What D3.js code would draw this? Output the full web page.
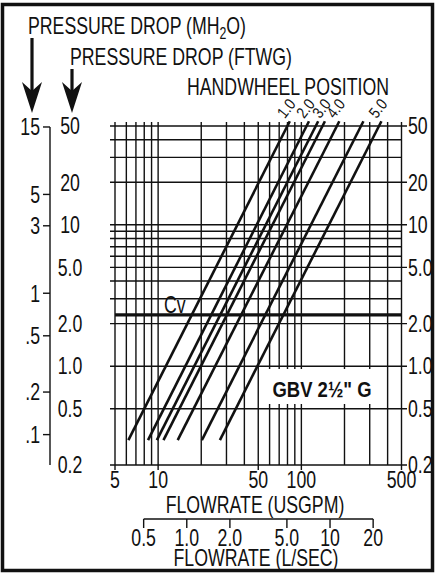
<!DOCTYPE html>
<html><head><meta charset="utf-8">
<script src="https://cdn.jsdelivr.net/npm/d3@7"></script>
<style>body{margin:0;background:#fff}svg{display:block}</style>
</head><body><svg id="c" width="435" height="573"></svg>
<script>
// ---- data ----
const flowTicks = [5, 10, 50, 100, 500];
const flowTickLabels = ["5", "10", "50", "100", "500"];
const flowGrid = [5,6,7,8,9,10,20,30,40,50,60,70,80,90,100,200,300,400,500];
const litreTicks = [0.5, 1.0, 2.0, 5.0, 10, 20];
const litreTickLabels = ["0.5", "1.0", "2.0", "5.0", "10", "20"];
const ftTicks = [50, 20, 10, 5, 2, 1, 0.5, 0.2];
const ftTickLabels = ["50", "20", "10", "5.0", "2.0", "1.0", "0.5", "0.2"];
const ftGrid = [50,40,30,20,10,9,8,7,6,5,4,3,2,1,0.5];
const mTicks = [15, 5, 3, 1, 0.5, 0.2, 0.1];
const mTickLabels = ["15", "5", "3", "1", ".5", ".2", ".1"];
const positions = ["1.0", "2.0", "", "3.0", "4.0", "", "5.0"];
const dropLow = 0.3, dropHigh = 54;            // ft wg at the ends of each curve
const flowAtLow = [6.2, 8.5, 9.8, 10.9, 13.7, 20.2, 27.0];   // USGPM at dropLow
const flowAtHigh = [83, 113, 131, 146, 184, 271, 362];       // USGPM at dropHigh
const cvDrop = 2.31;                           // 1 psi in ft wg
const GPM_PER_LS = 15.85, FT_PER_M = 3.2808;

// ---- scales ----
const svg = d3.select("#c");
const x = d3.scaleLog().domain([5, 500]).range([115, 401.5]);
const y = d3.scaleLog().domain([0.2, 50]).range([465, 126]);
const FONT = '"Liberation Sans", Arial, sans-serif';
const INK = "#111";

function txt(px, py, s, o = {}) {
  const size = o.size || 23, sx = o.sx || 0.77, rot = o.rot || 0;
  return svg.append("text")
    .attr("transform", `translate(${px},${py}) rotate(${rot}) scale(${sx},1)`)
    .attr("text-anchor", o.anchor || "start")
    .attr("dy", o.dy || 0)
    .style("font-family", FONT).style("font-size", size + "px")
    .style("font-weight", o.weight || "normal").attr("fill", INK)
    .text(s);
}

// border
svg.append("rect").attr("x", 2.5).attr("y", 4.5).attr("width", 430).attr("height", 566)
  .attr("fill", "none").attr("stroke", INK).attr("stroke-width", 3.5);

// ---- grid ----
const g = svg.append("g").attr("stroke", INK).attr("stroke-width", 1.4);
g.selectAll("line.v").data(flowGrid).join("line")
  .attr("x1", d => x(d)).attr("x2", d => x(d))
  .attr("y1", 122).attr("y2", d => flowTicks.includes(d) ? 470 : 465);
g.selectAll("line.h").data(ftGrid).join("line")
  .attr("x1", 110).attr("x2", d => ftTicks.includes(d) ? 407 : x(500))
  .attr("y1", d => y(d)).attr("y2", d => y(d));
g.append("line").attr("x1", 110).attr("x2", 407).attr("y1", y(0.2)).attr("y2", y(0.2));

// label box
svg.append("rect").attr("x", 267).attr("y", 369).attr("width", 108).attr("height", 35).attr("fill", "#fff");
txt(322, 397, 'GBV 2\u00BD" G', {anchor: "middle", weight: "bold", size: 22, sx: 0.84});

// Cv line
svg.append("line").attr("x1", x(5)).attr("x2", x(500)).attr("y1", y(cvDrop)).attr("y2", y(cvDrop))
  .attr("stroke", INK).attr("stroke-width", 3.2);
txt(164, 313, "Cv");

// ---- handwheel curves ----
const curves = flowAtLow.map((f, i) => ({lo: f, hi: flowAtHigh[i], label: positions[i]}));
svg.append("g").selectAll("line").data(curves).join("line")
  .attr("x1", d => x(d.lo)).attr("y1", y(dropLow))
  .attr("x2", d => x(d.hi)).attr("y2", y(dropHigh))
  .attr("stroke", INK).attr("stroke-width", 2.6).attr("stroke-linecap", "butt");
curves.filter(d => d.label).forEach(d => {
  txt(x(d.hi) - 5, y(dropHigh) - 2, d.label, {size: 16, rot: -52, sx: 0.85});
});
txt(187, 95, "HANDWHEEL POSITION");

// ---- right ft axis labels ----
ftTicks.forEach((v, i) => txt(408, y(v), ftTickLabels[i], {dy: "0.36em"}));
ftTicks.forEach((v, i) => txt(70, y(v), ftTickLabels[i], {anchor: "middle", dy: "0.36em"}));

// ---- left m axis ----
const mTop = y(15 * FT_PER_M);
svg.append("line").attr("x1", 50).attr("x2", 50).attr("y1", mTop).attr("y2", 465)
  .attr("stroke", INK).attr("stroke-width", 1.4);
svg.selectAll("line.m").data(mTicks).join("line")
  .attr("x1", 43).attr("x2", 50).attr("y1", d => y(d * FT_PER_M)).attr("y2", d => y(d * FT_PER_M))
  .attr("stroke", INK).attr("stroke-width", 1.4);
mTicks.forEach((v, i) => txt(40, y(v * FT_PER_M), mTickLabels[i], {anchor: "end", dy: "0.36em"}));

// ---- arrows and titles ----
[[32, 38], [72, 69]].forEach(([ax, ay]) => {
  svg.append("line").attr("x1", ax).attr("x2", ax).attr("y1", ay).attr("y2", 95)
    .attr("stroke", INK).attr("stroke-width", 3.2);
  svg.append("path").attr("d", `M${ax},113 L${ax - 10},82 L${ax},91 L${ax + 10},82 Z`).attr("fill", INK);
});
const t1 = txt(28, 34, "PRESSURE DROP (MH");
t1.append("tspan").attr("dy", 5).style("font-size", "16px").text("2");
t1.append("tspan").attr("dy", -5).text("O)");
txt(70, 65, "PRESSURE DROP (FTWG)");

// ---- bottom axes ----
flowTicks.forEach((v, i) => txt(x(v), 488, flowTickLabels[i], {anchor: "middle"}));
txt(255, 513, "FLOWRATE (USGPM)", {anchor: "middle"});
const ls = d => x(d * GPM_PER_LS);
svg.append("line").attr("x1", ls(0.5)).attr("x2", ls(20)).attr("y1", 519).attr("y2", 519)
  .attr("stroke", INK).attr("stroke-width", 1.4);
svg.selectAll("line.ls").data(litreTicks).join("line")
  .attr("x1", d => ls(d)).attr("x2", d => ls(d)).attr("y1", 519).attr("y2", 528)
  .attr("stroke", INK).attr("stroke-width", 1.4);
litreTicks.forEach((v, i) => txt(ls(v), 546, litreTickLabels[i], {anchor: "middle"}));
txt(256, 566, "FLOWRATE (L/SEC)", {anchor: "middle"});
</script></body></html>
